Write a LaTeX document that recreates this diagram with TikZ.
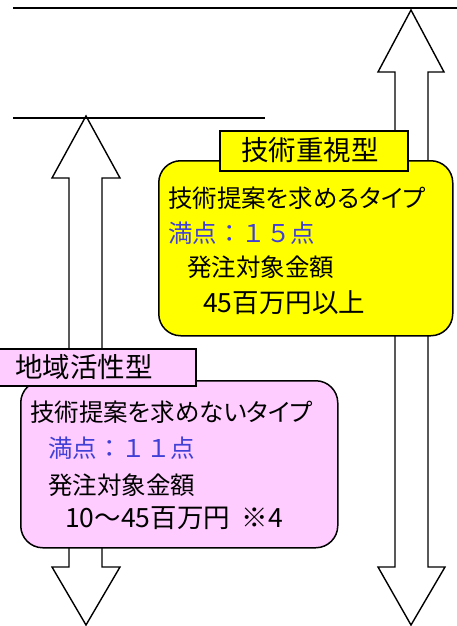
\documentclass[tikz,border=0pt]{standalone}
\usepackage{fontspec}
\setmainfont{Noto Sans CJK JP}
\newfontfamily\jpbody[RawFeature=+palt]{Noto Sans CJK JP}
\newfontfamily\jpfull{Noto Sans CJK JP}
\definecolor{boxyellow}{RGB}{255,255,0}
\definecolor{boxpink}{RGB}{255,204,255}
\definecolor{scoreblue}{RGB}{64,64,214}
\tikzset{
  bigarrow/.style={draw=black, line width=1.4pt, fill=white, line join=miter},
  limitline/.style={draw=black, line width=2.3pt},
  roundbox/.style={draw=black, line width=1.5pt, rounded corners=22pt, anchor=north west, inner sep=0pt},
  labelbox/.style={draw=black, line width=1.5pt, anchor=north west, inner sep=0pt},
  bodytext/.style={anchor=west, inner sep=0pt, font=\jpbody\fontsize{24.5pt}{26pt}\selectfont},
  amounttext/.style={anchor=west, inner sep=0pt, font=\jpfull\fontsize{26.5pt}{28pt}\selectfont},
  scoretext/.style={anchor=west, inner sep=0pt, text=scoreblue, font=\jpfull\fontsize{24.5pt}{26pt}\selectfont},
  labeltext/.style={anchor=west, inner sep=0pt, font=\jpfull\fontsize{27.5pt}{29pt}\selectfont}
}
\begin{document}
\begin{tikzpicture}[x=1pt,y=-1pt]
\useasboundingbox (0,0) rectangle (457,626);
% double arrows
\draw[bigarrow] (411,10) -- (444,72) -- (428,72) -- (428,567) -- (445,567) -- (411,625)
  -- (378,567) -- (395,567) -- (395,72) -- (378,72) -- cycle;
\draw[bigarrow] (86,116) -- (120,178) -- (102,178) -- (102,567) -- (120,567) -- (86,625)
  -- (52,567) -- (69,567) -- (69,178) -- (52,178) -- cycle;
% limit lines
\coordinate (t1) at (13,8); \coordinate (t2) at (458,8);
\coordinate (s1) at (13,118); \coordinate (s2) at (265,118);
\draw[limitline] (t1) -- (t2);
\draw[limitline] (s1) -- (s2);
% yellow box
\node[roundbox, fill=boxyellow, minimum width=294pt, minimum height=175pt] (ybox) at (158,160) {};
\node[labelbox, fill=boxyellow, minimum width=188pt, minimum height=40pt] (ylabel) at (219,130) {};
\node[labeltext] (yltext) at (241,150) {技術重視型};
\node[bodytext] (y1) at (168,198) {技術提案を求めるタイプ};
\node[scoretext] (y2) at (168,233) {満点：１５点};
\node[bodytext] (y3) at (187,267) {発注対象金額};
\node[amounttext] (y4) at (203,303) {45百万円以上};
% pink box
\node[roundbox, fill=boxpink, minimum width=317pt, minimum height=167pt] (pbox) at (20,380) {};
\node[labelbox, fill=boxpink, minimum width=197pt, minimum height=37pt] (plabel) at (-2,348) {};
\node[labeltext] (pltext) at (15,367) {地域活性型};
\node[bodytext] (p1) at (30,412) {技術提案を求めないタイプ};
\node[scoretext] (p2) at (48,448) {満点：１１点};
\node[bodytext] (p3) at (48,485) {発注対象金額};
\node[amounttext] (p4) at (65,518) {10～45百万円\hspace{0.45em}※4};
\end{tikzpicture}
\end{document}
